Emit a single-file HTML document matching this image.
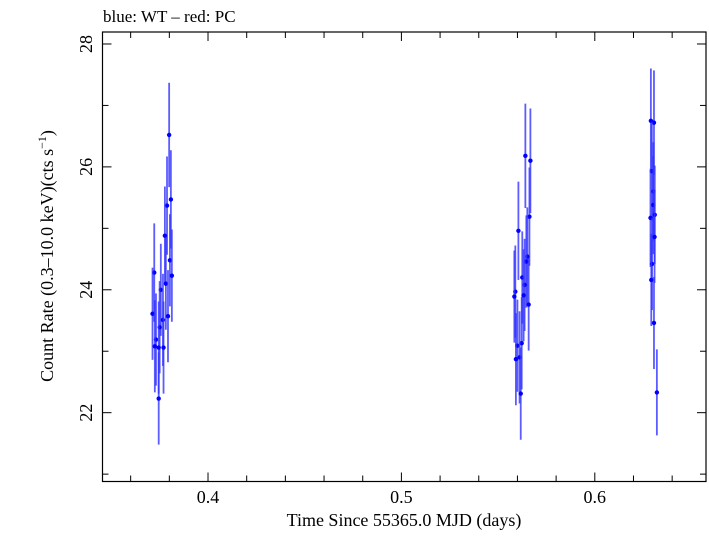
<!DOCTYPE html>
<html><head><meta charset="utf-8"><style>
body{margin:0;background:#fff}
svg text{font-family:"Liberation Serif",serif;fill:#000}
</style></head><body>
<svg id="chart" width="709" height="532" xmlns="http://www.w3.org/2000/svg">
<text x="103" y="22" font-size="17">blue: WT – red: PC</text>
<rect x="102.5" y="32" width="603.5" height="449.5" fill="none" stroke="#000" stroke-width="1.2"/>
<g id="ticks"></g><g id="marks"></g>
<text x="404" y="526" font-size="18" text-anchor="middle">Time Since 55365.0 MJD (days)</text>
<text transform="translate(53,256) rotate(-90)" font-size="18" text-anchor="middle">Count Rate (0.3–10.0 keV)(cts s<tspan font-size="12" dy="-7">−1</tspan><tspan dy="7">)</tspan></text>
</svg>
<script>
const times=[0.3799,0.3808,0.3788,0.3777,0.3803,0.3813,0.3722,0.3782,0.3756,0.3713,0.3767,0.3793,0.3750,0.3731,0.3745,0.3770,0.3725,0.3745,
0.5641,0.5667,0.5662,0.5605,0.5651,0.5646,0.5625,0.5637,0.5589,0.5584,0.5632,0.5658,0.5622,0.5600,0.5611,0.5592,0.5617,
0.6290,0.6306,0.6295,0.6303,0.6302,0.6288,0.6310,0.6296,0.6292,0.6309,0.6306,0.6321];
const rates=[26.52,25.47,25.37,24.88,24.48,24.23,24.28,24.10,24.00,23.61,23.51,23.57,23.39,23.19,23.06,23.06,23.08,22.23,
26.18,26.10,25.19,24.96,24.54,24.46,24.20,24.08,23.97,23.89,23.91,23.76,23.13,23.09,22.90,22.87,22.31,
26.75,26.72,25.93,25.60,25.38,25.17,25.22,24.42,24.16,24.86,23.46,22.33];
const errors=[0.85,0.8,0.8,0.8,0.75,0.75,0.8,0.75,0.75,0.75,0.75,0.75,0.75,0.75,0.75,0.75,0.75,0.75,
0.85,0.85,0.8,0.8,0.8,0.75,0.75,0.75,0.75,0.75,0.75,0.75,0.75,0.75,0.75,0.75,0.75,
0.85,0.85,0.8,0.8,0.8,0.8,0.8,0.75,0.75,0.75,0.75,0.7];
const xTicks=[0.4,0.5,0.6];
const yTicks=[22,24,26,28];
const X0=0.34544,X1=0.6575,Y0=20.88,Y1=28.195,L=102.5,R=706,T=32,B=481.5;
const xs=v=>L+(v-X0)/(X1-X0)*(R-L);
const ys=v=>B-(v-Y0)/(Y1-Y0)*(B-T);
const NS="http://www.w3.org/2000/svg";
function mk(tag,attrs,parent){const e=document.createElementNS(NS,tag);for(const k in attrs)e.setAttribute(k,attrs[k]);parent.appendChild(e);return e;}
const tg=document.getElementById('ticks');
for(let v=0.36;v<0.658;v+=0.02){const x=xs(v);const major=xTicks.some(t=>Math.abs(t-v)<1e-6);const len=major?9:6;
 const t1=mk('line',{x1:x,x2:x,y1:B,y2:B-len,stroke:'#000'},tg);
 
 const t2=mk('line',{x1:x,x2:x,y1:T,y2:T+len,stroke:'#000'},tg);
 }
xTicks.forEach(v=>{const t=mk('text',{x:xs(v),y:503,'font-size':18,'text-anchor':'middle'},tg);t.textContent=v.toFixed(1);
 });
for(let v=21;v<=28;v+=1){const y=ys(v);const major=yTicks.includes(v);const len=major?9:6;
 const t1=mk('line',{x1:L,x2:L+len,y1:y,y2:y,stroke:'#000'},tg);
 
 const t2=mk('line',{x1:R,x2:R-len,y1:y,y2:y,stroke:'#000'},tg);
 }
yTicks.forEach(v=>{const t=mk('text',{transform:'translate(92,'+ys(v)+') rotate(-90)','font-size':18,'text-anchor':'middle'},tg);t.textContent=v;
 });
const mg=document.getElementById('marks');
times.forEach((t,i)=>{const x=xs(t);
 const l=mk('line',{x1:x,x2:x,y1:ys(rates[i]+errors[i]),y2:ys(rates[i]-errors[i]),stroke:'#3333ff','stroke-width':1.8,'stroke-opacity':0.8},mg);
 
 const c=mk('circle',{cx:x,cy:ys(rates[i]),r:2.2,fill:'#0000ff'},mg);
 });
</script>
</body></html>
